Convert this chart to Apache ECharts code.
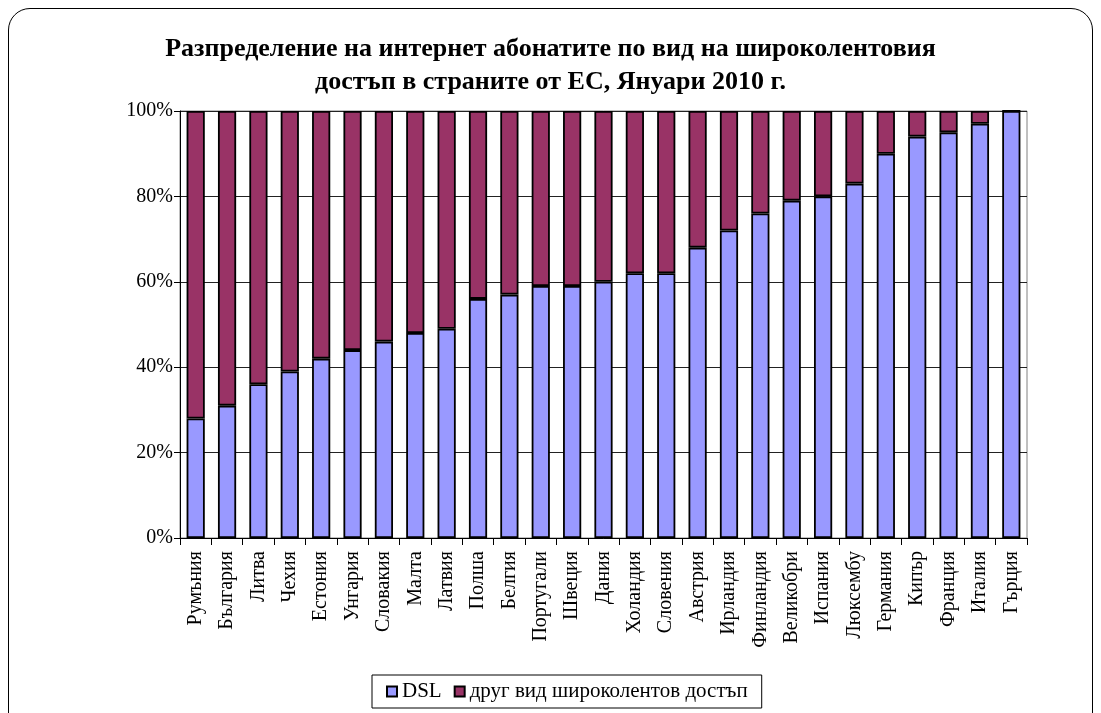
<!DOCTYPE html>
<html><head><meta charset="utf-8">
<script src="https://cdn.jsdelivr.net/npm/echarts@6/dist/echarts.min.js"></script>
<style>
html,body{margin:0;padding:0;background:#fff;overflow:hidden;}
#frame{position:absolute;left:8px;top:8px;width:1085px;height:740px;border:1px solid #000;border-radius:22px;box-sizing:border-box;}
#chart{position:absolute;left:0;top:0;width:1101px;height:713px;}
</style></head>
<body>
<div id="frame"></div>
<div id="chart"></div>
<script>
const categories = ['Румъния','България','Литва','Чехия','Естония','Унгария','Словакия','Малта','Латвия','Полша','Белгия','Португали','Швеция','Дания','Холандия','Словения','Австрия','Ирландия','Финландия','Великобри','Испания','Люксембу','Германия','Кипър','Франция','Италия','Гърция'];
const dsl = [28,31,36,39,42,44,46,48,49,56,57,59,59,60,62,62,68,72,76,79,80,83,90,94,95,97,100];
const other = dsl.map(v => 100 - v);
const seriesNames = ['DSL','друг вид широколентов достъп'];
const titleLines = ['Разпределение на интернет абонатите по вид на широколентовия','достъп в страните от ЕС, Януари 2010 г.'];

const font = '"Liberation Serif","DejaVu Serif",serif';
const chart = echarts.init(document.getElementById('chart'), null, {renderer:'canvas'});
chart.setOption({
  animation:false,
  backgroundColor:'transparent',
  title:{text:titleLines.join('\n'),left:'center',top:28,
    textStyle:{fontFamily:font,fontSize:26,fontWeight:'bold',color:'#000',lineHeight:33}},
  legend:{bottom:5,left:372,data:seriesNames,icon:'rect',itemWidth:10,itemHeight:10,itemGap:12,
    borderColor:'#000',borderWidth:1,padding:[6,14,6,14],
    textStyle:{fontFamily:font,fontSize:21,color:'#000'}},
  grid:{left:180,right:74,top:111,bottom:175,show:true,borderColor:'#808080',borderWidth:1},
  xAxis:{type:'category',data:categories,
    axisLine:{lineStyle:{color:'#000',width:1}},
    axisTick:{show:true,length:7,lineStyle:{color:'#000'}},
    axisLabel:{rotate:90,interval:0,fontFamily:font,fontSize:20,color:'#000',margin:13}},
  yAxis:{type:'value',min:0,max:100,interval:20,
    axisLine:{show:true,lineStyle:{color:'#000'}},
    axisTick:{show:true,length:6,lineStyle:{color:'#000'}},
    axisLabel:{formatter:'{value}%',fontFamily:font,fontSize:20,color:'#000',margin:7},
    splitLine:{lineStyle:{color:'#222',width:1}}},
  series:[
    {name:seriesNames[0],type:'bar',stack:'a',data:dsl,barCategoryGap:'42%',
      itemStyle:{color:'#9999FF',borderColor:'#000',borderWidth:1.8}},
    {name:seriesNames[1],type:'bar',stack:'a',data:other,
      itemStyle:{color:'#993366',borderColor:'#000',borderWidth:1.8}}
  ]
});
</script>
</body></html>
